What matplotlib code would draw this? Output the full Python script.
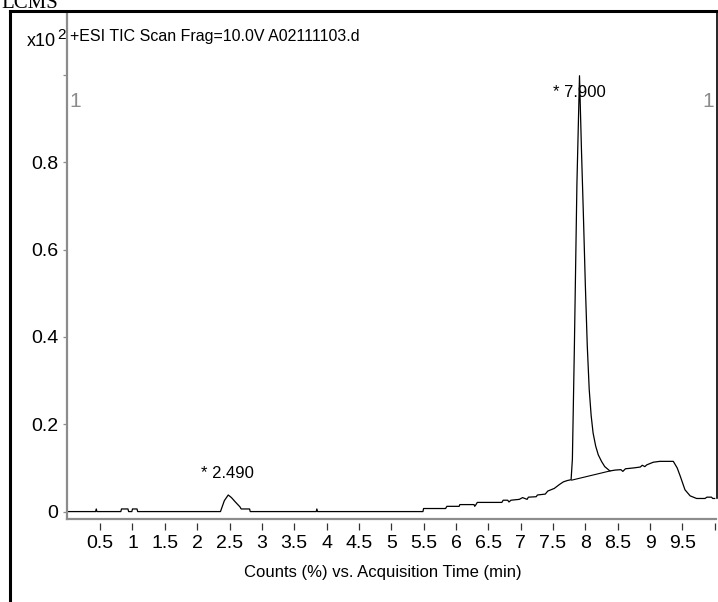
import matplotlib
matplotlib.use("Agg")
import matplotlib.pyplot as plt
from matplotlib import font_manager
from matplotlib.lines import Line2D

# TIC trace (time in min, counts x10^2)
times = [0.00, 0.43, 0.44, 0.45, 0.82, 0.83, 0.93, 0.94, 0.99, 1.00, 1.07, 1.08,
         2.36, 2.42, 2.48, 2.53, 2.59, 2.66, 2.68, 2.81, 2.82, 3.84, 3.85, 3.86,
         5.49, 5.50, 5.84, 5.86, 6.05, 6.06, 6.28, 6.29, 6.31, 6.33, 6.71, 6.73,
         6.80, 6.82, 6.85, 6.98, 7.03, 7.10, 7.12, 7.24, 7.26, 7.38, 7.42, 7.52,
         7.60, 7.66, 7.72, 7.78, 7.80, 7.83, 7.87, 7.91, 7.94, 7.97, 8.00, 8.03,
         8.06, 8.09, 8.12, 8.16, 8.20, 8.25, 8.30, 8.38, 8.46, 8.55, 8.58, 8.62,
         8.75, 8.85, 8.88, 8.92, 8.95, 9.05, 9.15, 9.36, 9.42, 9.47, 9.54, 9.62,
         9.72, 9.85, 9.88, 9.95, 9.97, 10.00]
counts = [0.000, 0.000, 0.006, 0.000, 0.000, 0.006, 0.006, 0.000, 0.000, 0.006, 0.006, 0.000,
          0.000, 0.025, 0.038, 0.032, 0.022, 0.011, 0.006, 0.006, 0.000, 0.000, 0.006, 0.000,
          0.000, 0.007, 0.007, 0.012, 0.012, 0.016, 0.016, 0.012, 0.016, 0.021, 0.021, 0.026,
          0.026, 0.022, 0.026, 0.028, 0.032, 0.028, 0.033, 0.034, 0.038, 0.040, 0.047, 0.053,
          0.062, 0.068, 0.071, 0.073, 0.120, 0.370, 0.750, 0.998, 0.830, 0.680, 0.520, 0.380,
          0.280, 0.220, 0.180, 0.150, 0.130, 0.115, 0.103, 0.093, 0.095, 0.096, 0.092, 0.098,
          0.100, 0.102, 0.106, 0.103, 0.107, 0.113, 0.115, 0.115, 0.100, 0.080, 0.050, 0.036,
          0.030, 0.030, 0.033, 0.033, 0.030, 0.030]

# integration baseline under the 7.900 peak
base_t = [7.79, 8.38]
base_y = [0.072, 0.093]

peak_labels = ["* 2.490", "* 7.900"]
peak_pos = [(2.47, 0.077), (7.91, 0.95)]

xticks = [0.5, 1, 1.5, 2, 2.5, 3, 3.5, 4, 4.5, 5, 5.5, 6, 6.5, 7, 7.5, 8, 8.5, 9, 9.5, 10]
xticklabels = ["0.5", "1", "1.5", "2", "2.5", "3", "3.5", "4", "4.5", "5", "5.5", "6",
               "6.5", "7", "7.5", "8", "8.5", "9", "9.5", ""]
yticks = [0, 0.2, 0.4, 0.6, 0.8, 1.0]
yticklabels = ["0", "0.2", "0.4", "0.6", "0.8", ""]

names = {f.name for f in font_manager.fontManager.ttflist}
font = "Liberation Sans Narrow" if "Liberation Sans Narrow" in names else "Liberation Sans"
plt.rcParams["font.family"] = [font, "DejaVu Sans"]

W, H = 718, 602
fig = plt.figure(figsize=(W / 100, H / 100), dpi=100)


def fx(px):
    return px / W


def fy(py):
    return 1 - py / H


ax = fig.add_axes([fx(66.5), fy(519), fx(716) - fx(66.5), fy(12) - fy(519)])
ax.plot(times, counts, color="black", lw=0.9)
ax.plot(base_t, base_y, color="black", lw=0.8)
ax.set_xlim(-0.02, 10.02)
ax.set_ylim(-0.017, 1.144)

for lab, (t, y) in zip(peak_labels, peak_pos):
    ax.text(t, y, lab, ha="center", va="baseline", fontsize=12)

gray = "#8c8c8c"
ax.text(0.005, 0.927, "1", transform=ax.get_yaxis_transform(), color=gray,
        fontsize=15, ha="left", va="baseline")
ax.text(0.997, 0.927, "1", transform=ax.get_yaxis_transform(), color=gray,
        fontsize=15, ha="right", va="baseline")

for side in ["top", "right"]:
    ax.spines[side].set_visible(False)
ax.spines["left"].set_color(gray)
ax.spines["left"].set_linewidth(1.6)
ax.spines["bottom"].set_position(("outward", 3))
ax.spines["bottom"].set_color("none")
ax.axhline(-0.017, color=gray, lw=1.6, clip_on=False)

ax.set_xticks(xticks)
ax.set_xticklabels(xticklabels)
ax.set_yticks(yticks)
ax.set_yticklabels(yticklabels)
ax.tick_params(axis="x", length=5, width=0.9, color="#333333", pad=3.5, labelsize=14)
ax.tick_params(axis="y", length=3, width=0.9, color=gray, pad=3, labelsize=14)

fig.text(fx(70), fy(36), "+ESI TIC Scan Frag=10.0V A02111103.d", fontsize=11.5,
         ha="left", va="center")
fig.text(fx(56), fy(46), "x10", fontsize=13, ha="right", va="baseline")
fig.text(fx(57), fy(39), "2", fontsize=11, ha="left", va="baseline")
fig.text(fx(383), fy(572), "Counts (%) vs. Acquisition Time (min)", fontsize=12,
         ha="center", va="center")
fig.text(fx(1), fy(8), "LCMS", fontsize=15, family="Liberation Serif",
         ha="left", va="baseline")

# outer frame
fig.add_artist(Line2D([fx(9.5), fx(9.5)], [0, fy(11)], color="black", lw=2.2))
fig.add_artist(Line2D([fx(9.5), fx(716.5)], [fy(11), fy(11)], color="black", lw=2.2))
fig.add_artist(Line2D([fx(716.5), fx(716.5)], [fy(11), fy(498)], color="black", lw=1.2))

fig.savefig("out.png", dpi=100)
